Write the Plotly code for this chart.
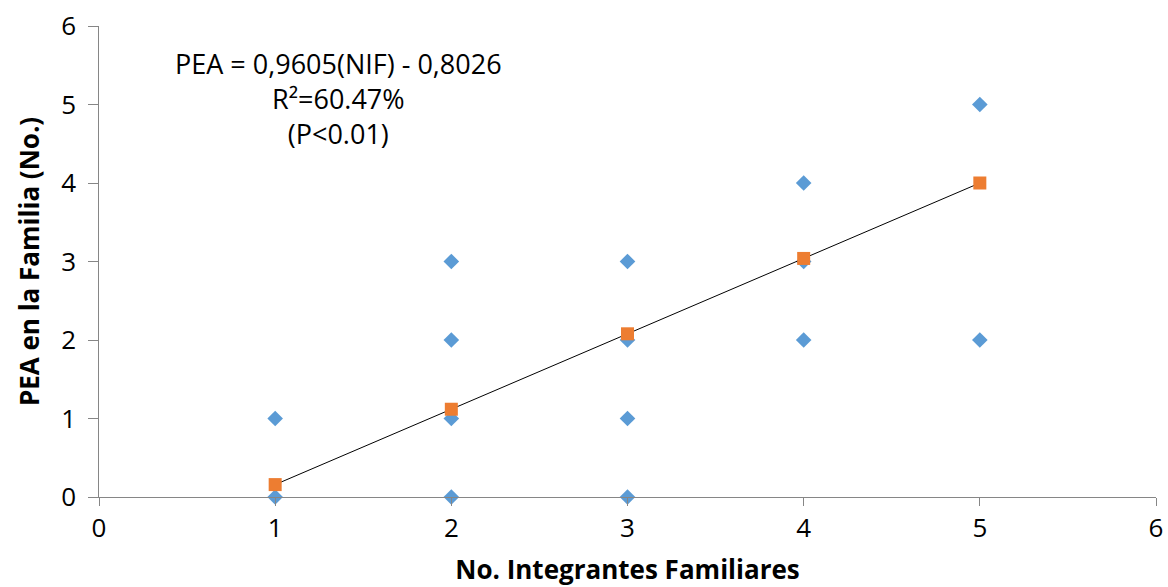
import plotly.graph_objects as go

# Observed data (No. integrantes familiares vs PEA)
obs_x = [1, 1, 2, 2, 2, 2, 3, 3, 3, 3, 4, 4, 4, 5, 5]
obs_y = [0, 1, 0, 1, 2, 3, 0, 1, 2, 3, 2, 3, 4, 2, 5]

# Fitted values
fit_x = [1, 2, 3, 4, 5]
fit_y = [0.158, 1.118, 2.079, 3.039, 4.000]

eq_lines = ["PEA = 0,9605(NIF) - 0,8026", "R²=60.47%", "(P<0.01)"]

FONT = "Open Sans"
AX = "#868686"

fig = go.Figure()
fig.add_trace(go.Scatter(x=obs_x, y=obs_y, mode="markers",
                         marker=dict(symbol="diamond", size=12, color="#5B9BD5"),
                         cliponaxis=False, showlegend=False))
fig.add_trace(go.Scatter(x=fit_x, y=fit_y, mode="lines",
                         line=dict(color="#000000", width=1),
                         cliponaxis=False, showlegend=False))
fig.add_trace(go.Scatter(x=fit_x, y=fit_y, mode="markers",
                         marker=dict(symbol="square", size=13, color="#ED7D31"),
                         cliponaxis=False, showlegend=False))

L, R, T, B = 99, 12, 26, 90
W, H = 1168, 587
pw, ph = W - L - R, H - T - B

def px_to_paper(px, py):
    return (px - L) / pw, (H - B - py) / ph

ax_, ay_ = px_to_paper(338, 99)
fig.add_annotation(text="<br>".join(eq_lines), x=ax_, y=ay_, xref="paper", yref="paper",
                   showarrow=False, xanchor="center", yanchor="middle", align="center",
                   font=dict(family=FONT, size=27, color="#000000"))

fig.update_layout(
    width=W, height=H,
    margin=dict(l=L, r=R, t=T, b=B, autoexpand=False),
    plot_bgcolor="white", paper_bgcolor="white",
    font=dict(family=FONT, color="#000000"),
)
fig.update_xaxes(range=[0, 6], dtick=1, tick0=0, showgrid=False, zeroline=False,
                 showline=True, linecolor=AX, linewidth=1, automargin=False,
                 ticks="outside", ticklen=8, tickcolor=AX,
                 tickfont=dict(family=FONT, size=26),
                 title=dict(text="<b>No. Integrantes Familiares</b>",
                            font=dict(family=FONT, size=26), standoff=24))
fig.update_yaxes(range=[0, 6], dtick=1, tick0=0, showgrid=False, zeroline=False,
                 showline=True, linecolor=AX, linewidth=1, automargin=False,
                 ticks="outside", ticklen=10, tickcolor=AX, ticksuffix=" ",
                 tickfont=dict(family=FONT, size=26),
                 title=dict(text="<b>PEA en la Familia (No.)</b>",
                            font=dict(family=FONT, size=26), standoff=14))

fig.write_html("out.html")
